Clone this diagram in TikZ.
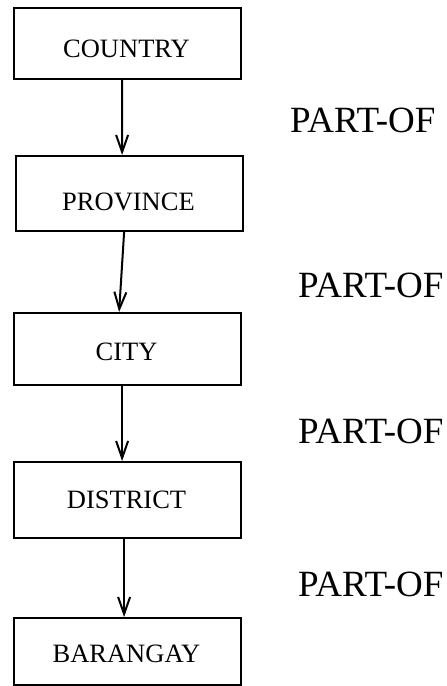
\documentclass[tikz,border=0pt]{standalone}
\usepackage{fontspec}
\setmainfont{Liberation Serif}
\usetikzlibrary{arrows.meta}
\begin{document}
\begin{tikzpicture}[x=1bp,y=-1bp,
  unitbox/.style={draw, line width=2.2bp, rectangle, inner sep=0pt,
    minimum width=227bp, anchor=north west},
  boxtext/.style={anchor=base, inner sep=0pt, font=\fontsize{26.5bp}{30bp}\selectfont},
  reltext/.style={anchor=base west, inner sep=0pt, font=\fontsize{37bp}{42bp}\selectfont},
  link/.style={line width=2bp, -{Straight Barb[length=17bp,width=12bp,line width=2bp]}}]
\useasboundingbox (0,0) rectangle (447,686);

% hierarchy boxes
\node[unitbox, minimum height=71bp] (country)  at (13,7)   {};
\node[unitbox, minimum height=75bp] (province) at (15,155) {};
\node[unitbox, minimum height=72bp] (city)     at (13,312) {};
\node[unitbox, minimum height=76bp] (district) at (13,461) {};
\node[unitbox, minimum height=67bp] (barangay) at (13,617) {};

% box captions
\node[boxtext] (countrytxt)  at (126.5,58)  {COUNTRY};
\node[boxtext] (provincetxt) at (128.5,210) {PROVINCE};
\node[boxtext] (citytxt)     at (126.5,360) {CITY};
\node[boxtext] (districttxt) at (126.5,508) {DISTRICT};
\node[boxtext] (barangaytxt) at (126.5,662) {BARANGAY};

% containment links
\draw[link] ([xshift=-5.5bp]country.south)  -- ([xshift=-7.5bp]province.north);
\draw[link] ([xshift=-5.5bp]province.south) -- ([xshift=-8.5bp]city.north);
\draw[link] ([xshift=-5.5bp]city.south)     -- ([xshift=-5.5bp]district.north);
\draw[link] ([xshift=-3.5bp]district.south) -- ([xshift=-3.5bp]barangay.north);

% relation labels
\node[reltext] (rel1) at (290,133) {PART-OF};
\node[reltext] (rel2) at (298,297) {PART-OF};
\node[reltext] (rel3) at (298,443) {PART-OF};
\node[reltext] (rel4) at (298,596) {PART-OF};
\end{tikzpicture}
\end{document}
